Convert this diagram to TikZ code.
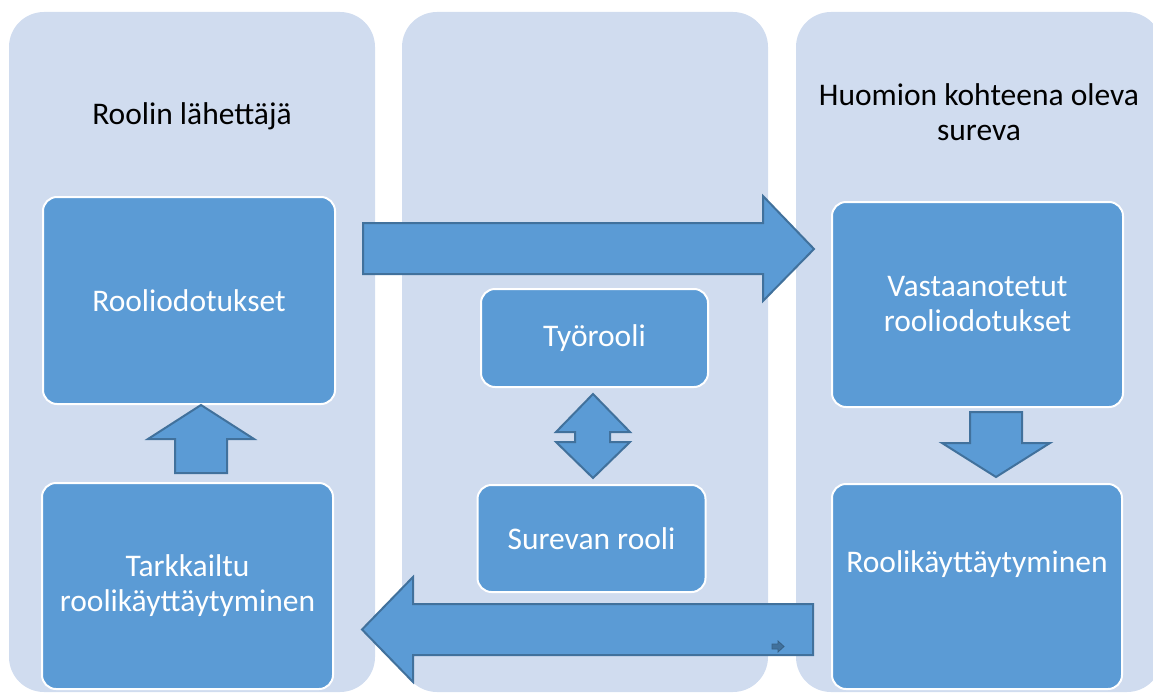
\documentclass[tikz,border=0pt]{standalone}
\usepackage{fontspec}
\setmainfont{Carlito}
\definecolor{roleLane}{RGB}{208,220,239}
\definecolor{roleBox}{RGB}{91,155,213}
\definecolor{roleEdge}{RGB}{65,113,156}

\begin{document}
\begin{tikzpicture}[
    x=1pt, y=-1pt,
    lane/.style={rectangle, fill=roleLane, rounded corners=35pt, minimum width=366pt, minimum height=680pt},
    rolebox/.style={rectangle, draw=white, line width=2pt, fill=roleBox, rounded corners=14pt,
        text=white, align=center, font=\fontsize{31.5}{35}\selectfont},
    lanetitle/.style={align=center, font=\fontsize{31.5}{34.5}\selectfont},
    blockarr/.style={draw=roleEdge, line width=2pt, fill=roleBox, line join=miter}
]
\clip (0,0) rectangle (1153,693);

% Lanes
\node[lane] (sender) at (192,352) {};
\node[lane] (middle) at (585,352) {};
\node[lane] (target) at (979,352) {};
\node[lanetitle, anchor=base] (senderTitle) at (192,124) {Roolin lähettäjä};
\node[lanetitle] (targetTitle) at (979,112) {Huomion kohteena oleva\\sureva};

% Role boxes
\node[rolebox, minimum width=292pt, minimum height=207pt] (expect) at (189,300.5) {Rooliodotukset};
\node[rolebox, minimum width=291pt, minimum height=206pt] (observed) at (187.5,586) {Tarkkailtu\\roolikäyttäytyminen};
\node[rolebox, minimum width=227pt, minimum height=98pt] (work) at (594.5,338) {Työrooli};
\node[rolebox, minimum width=228pt, minimum height=107pt] (grief) at (591.5,538.5) {Surevan rooli};
\node[rolebox, minimum width=291pt, minimum height=205pt] (received) at (977.5,304.5) {Vastaanotetut\\rooliodotukset};
\node[rolebox, minimum width=290pt, minimum height=205pt, text depth=50pt] (behaviour) at (977,586.5) {Roolikäyttäytyminen};

% Block arrows
\draw[blockarr] (363,223) -- (763,223) -- (763,196) -- (814,249) -- (763,301) -- (763,274) -- (363,274) -- cycle;
\draw[blockarr] (813,604) -- (413,604) -- (413,577) -- (362,629.5) -- (413,682) -- (413,655) -- (813,655) -- cycle;
\draw[blockarr] (175,473) -- (175,439) -- (148,439) -- (201,405) -- (254,439) -- (227,439) -- (227,473) -- cycle;
\draw[blockarr] (970,412) -- (1022,412) -- (1022,443) -- (1050,443) -- (996,477) -- (942,443) -- (970,443) -- cycle;
\draw[blockarr] (593,394) -- (630,432) -- (610,432) -- (610,442) -- (630,442) -- (593,478)
    -- (556,442) -- (575,442) -- (575,432) -- (556,432) -- cycle;
\draw[fill=roleEdge, draw=roleEdge!85!black, line width=0.8pt] (772,644) -- (778,644) -- (778,641)
    -- (784,646.5) -- (778,652) -- (778,649) -- (772,649) -- cycle;
\end{tikzpicture}
\end{document}
